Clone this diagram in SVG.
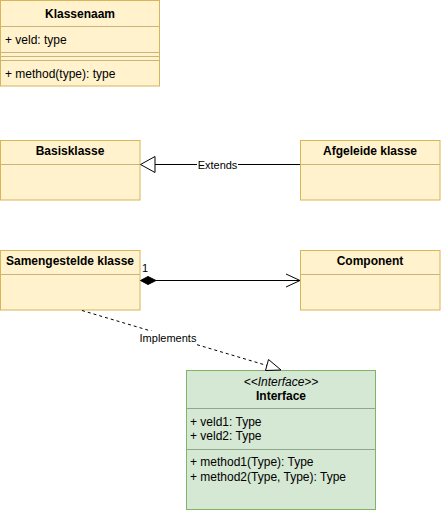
<svg xmlns="http://www.w3.org/2000/svg" width="441" height="511" viewBox="0 0 441 511">
<style>
.y{fill:#fff2cc;stroke:#d6b656;stroke-width:1}
.yl{stroke:#c9b47c;stroke-width:1;fill:none}
.g{fill:#d5e8d4;stroke:#82b366;stroke-width:1}
.gl{stroke:#8fa889;stroke-width:1;fill:none}
text{font-family:"Liberation Sans",Arial,Helvetica,sans-serif;font-size:12px;fill:#000}
.b{font-weight:bold;text-anchor:middle}
.c{text-anchor:middle}
.s{font-size:11px}
.ln{stroke:#000;stroke-width:1;fill:none}
</style>
<g id="klassenaam">
<rect class="y" x="0.5" y="0.5" width="159" height="85.5"/>
<line class="yl" x1="0.5" y1="26.5" x2="159.5" y2="26.5"/>
<line class="yl" x1="0.5" y1="52.5" x2="159.5" y2="52.5"/>
<line class="yl" x1="0.5" y1="56.5" x2="159.5" y2="56.5"/>
<line class="yl" x1="0.5" y1="60.5" x2="159.5" y2="60.5"/>
<text class="b" x="80" y="18">Klassenaam</text>
<text x="5" y="44">+ veld: type</text>
<text x="5" y="78">+ method(type): type</text>
</g>
<g id="basisklasse">
<rect class="y" x="0.5" y="140.5" width="139.5" height="59.5"/>
<line class="yl" x1="0.5" y1="164.5" x2="140" y2="164.5"/>
<text class="b" x="70" y="155">Basisklasse</text>
</g>
<g id="afgeleide">
<rect class="y" x="300.5" y="140.5" width="139.5" height="59.5"/>
<line class="yl" x1="300.5" y1="164.5" x2="440" y2="164.5"/>
<text class="b" x="370" y="155">Afgeleide klasse</text>
</g>
<g id="samengestelde">
<rect class="y" x="0.5" y="250.5" width="139.5" height="59.5"/>
<line class="yl" x1="0.5" y1="274.5" x2="140" y2="274.5"/>
<text class="b" x="70" y="265">Samengestelde klasse</text>
</g>
<g id="component">
<rect class="y" x="300.5" y="250.5" width="139.5" height="59.5"/>
<line class="yl" x1="300.5" y1="274.5" x2="440" y2="274.5"/>
<text class="b" x="370" y="265">Component</text>
</g>
<g id="interface">
<rect class="g" x="186.5" y="370.5" width="189" height="139"/>
<line class="gl" x1="186.5" y1="408.5" x2="375.5" y2="408.5"/>
<line class="gl" x1="186.5" y1="449.5" x2="375.5" y2="449.5"/>
<text class="c" x="281" y="386" font-style="italic">&lt;&lt;Interface&gt;&gt;</text>
<text class="b" x="281" y="399.5">Interface</text>
<text x="190" y="426">+ veld1: Type</text>
<text x="190" y="440">+ veld2: Type</text>
<text x="190" y="466">+ method1(Type): Type</text>
<text x="190" y="481">+ method2(Type, Type): Type</text>
</g>
<g id="connectors">
<line class="ln" x1="300" y1="164.5" x2="155" y2="164.5"/>
<polygon points="140.5,164.5 155,156.5 155,172.5" fill="#fff" stroke="#000" stroke-width="1"/>
<rect x="197" y="157" width="41" height="14" fill="#fff"/>
<text class="c s" x="217.5" y="168.5">Extends</text>
<line class="ln" x1="156" y1="280.5" x2="300" y2="280.5"/>
<polygon points="140.5,280.5 148,276.5 156,280.5 148,284.5" fill="#000" stroke="#000" stroke-width="1"/>
<polyline class="ln" points="286,274 300,280.5 286,287"/>
<text class="s" x="142" y="272">1</text>
<line class="ln" x1="82" y1="310.5" x2="267" y2="365.5" stroke-dasharray="3,3"/>
<polygon points="281,370 265.5,370.5 268.5,359.5" fill="#fff" stroke="#000" stroke-width="1"/>
<rect x="139" y="331" width="58" height="14" fill="#fff"/>
<text class="c s" x="168" y="342">Implements</text>
</g>
</svg>
